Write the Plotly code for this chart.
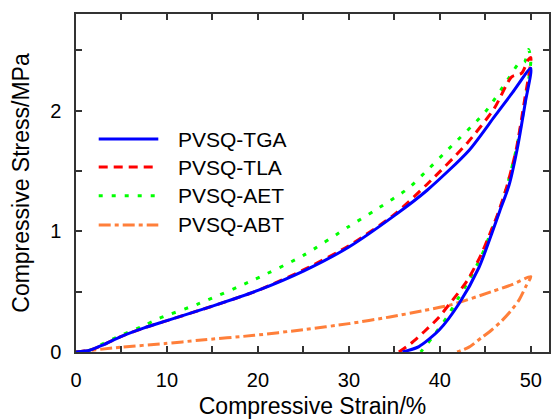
import plotly.graph_objects as go

# Loading / unloading loops for each sample (strain in %, stress in MPa)
tga_strain = [0, 1.5, 3, 5, 7.5, 10, 15, 20, 25, 30, 35, 38.6, 43.2, 46, 48, 50,
              49.4, 48.5, 47.6, 46.6, 45.7, 44.3, 42.1, 39.9, 37.7, 35.9]
tga_stress = [0, 0.015, 0.06, 0.13, 0.2, 0.26, 0.38, 0.51, 0.67, 0.87, 1.13, 1.34, 1.67, 1.95, 2.15, 2.35,
              2.07, 1.68, 1.38, 1.17, 0.98, 0.70, 0.40, 0.18, 0.045, 0]

tla_strain = [0, 1.5, 3, 5, 7.5, 10, 15, 20, 25, 30, 35, 38.6, 43, 46, 47.9, 49, 49.7, 50,
              49.3, 48.4, 47.4, 46.4, 45.5, 44.5, 43.0, 41.4, 39.8, 38.3, 36.8, 35.5]
tla_stress = [0, 0.015, 0.06, 0.13, 0.2, 0.26, 0.38, 0.51, 0.68, 0.88, 1.14, 1.39, 1.73, 2.02, 2.28, 2.31, 2.42, 2.44,
              2.08, 1.68, 1.38, 1.15, 0.98, 0.8, 0.59, 0.43, 0.28, 0.17, 0.07, 0]

aet_strain = [0, 1.5, 3, 5, 7.5, 9.1, 13.5, 19.6, 25, 29.9, 33, 36.5, 38.6, 40.8, 45, 47.5, 48.8, 49.3, 49.75,
              50, 49.4, 48.4, 47.4, 46.5, 45.6, 44.6, 43.2, 41.9, 40.8, 39.2, 37.9]
aet_stress = [0, 0.015, 0.07, 0.14, 0.22, 0.277, 0.40, 0.60, 0.80, 1.035, 1.18, 1.354, 1.505, 1.67, 1.99, 2.26, 2.40, 2.40, 2.505,
              2.42, 2.08, 1.68, 1.38, 1.16, 0.99, 0.8, 0.594, 0.43, 0.29, 0.124, 0]

abt_strain = [0, 5, 9.8, 13.5, 19.6, 25, 30, 34.5, 38, 41.2, 45.7, 48, 50,
              49.5, 48.7, 47.8, 46.7, 45.5, 44.6, 43.2, 41.9]
abt_stress = [0, 0.04, 0.07, 0.097, 0.138, 0.185, 0.235, 0.29, 0.34, 0.39, 0.50, 0.56, 0.625,
              0.55, 0.43, 0.34, 0.25, 0.17, 0.12, 0.04, 0]

names = ["PVSQ-TGA", "PVSQ-TLA", "PVSQ-AET", "PVSQ-ABT"]
colors = ["#0000FF", "#FF0000", "#00FF00", "#FF7F3A"]
dashes = ["solid", "9px,6px", "4px,9px", "12px,4px,4px,4px"]
series = [(tga_strain, tga_stress), (tla_strain, tla_stress),
          (aet_strain, aet_stress), (abt_strain, abt_stress)]

FONT = "Liberation Sans, Arial, sans-serif"
AXIS_COLOR = "#333333"

fig = go.Figure()
# draw order: orange at the back, blue on top
for i in [3, 2, 1, 0]:
    xs, ys = series[i]
    fig.add_trace(go.Scatter(x=xs, y=ys, mode="lines", name=names[i], showlegend=False,
                             line=dict(color=colors[i], width=3, dash=dashes[i],
                                       shape="spline", smoothing=0.7)))

# legend block drawn in paper coordinates (long sample lines)
leg_x0, leg_x1, leg_tx = 0.048, 0.174, 0.212
leg_y = [0.630, 0.547, 0.462, 0.376]
for i in range(4):
    fig.add_shape(type="line", xref="paper", yref="paper",
                  x0=leg_x0, x1=leg_x1, y0=leg_y[i], y1=leg_y[i],
                  line=dict(color=colors[i], width=3, dash=dashes[i]))
    fig.add_annotation(xref="paper", yref="paper", x=leg_tx, y=leg_y[i], text=names[i],
                       showarrow=False, xanchor="left", yanchor="middle",
                       font=dict(family=FONT, size=21, color="black"))

axis_common = dict(showline=True, linecolor=AXIS_COLOR, linewidth=1.5, mirror="ticks",
                   ticks="inside", ticklen=6, tickwidth=1.5, tickcolor=AXIS_COLOR,
                   showgrid=False, zeroline=False,
                   tickfont=dict(family=FONT, size=20, color="black"),
                   title_font=dict(family=FONT, size=23, color="black"))
minor_common = dict(ticks="inside", ticklen=6, tickwidth=1.5, tickcolor=AXIS_COLOR)

fig.update_xaxes(range=[0, 52], dtick=10, tick0=0, ticklabelstandoff=9,
                 minor=dict(dtick=5, **minor_common),
                 title_text="Compressive Strain/%", title_standoff=10, **axis_common)
fig.update_yaxes(range=[0, 2.8], dtick=1, tick0=0, ticklabelstandoff=9,
                 minor=dict(dtick=0.5, **minor_common),
                 title_text="Compressive Stress/MPa", title_standoff=14, **axis_common)

fig.update_layout(width=552, height=419, margin=dict(l=76, r=1, t=14, b=67),
                  plot_bgcolor="white", paper_bgcolor="white", showlegend=False)

fig.write_html("out.html")
